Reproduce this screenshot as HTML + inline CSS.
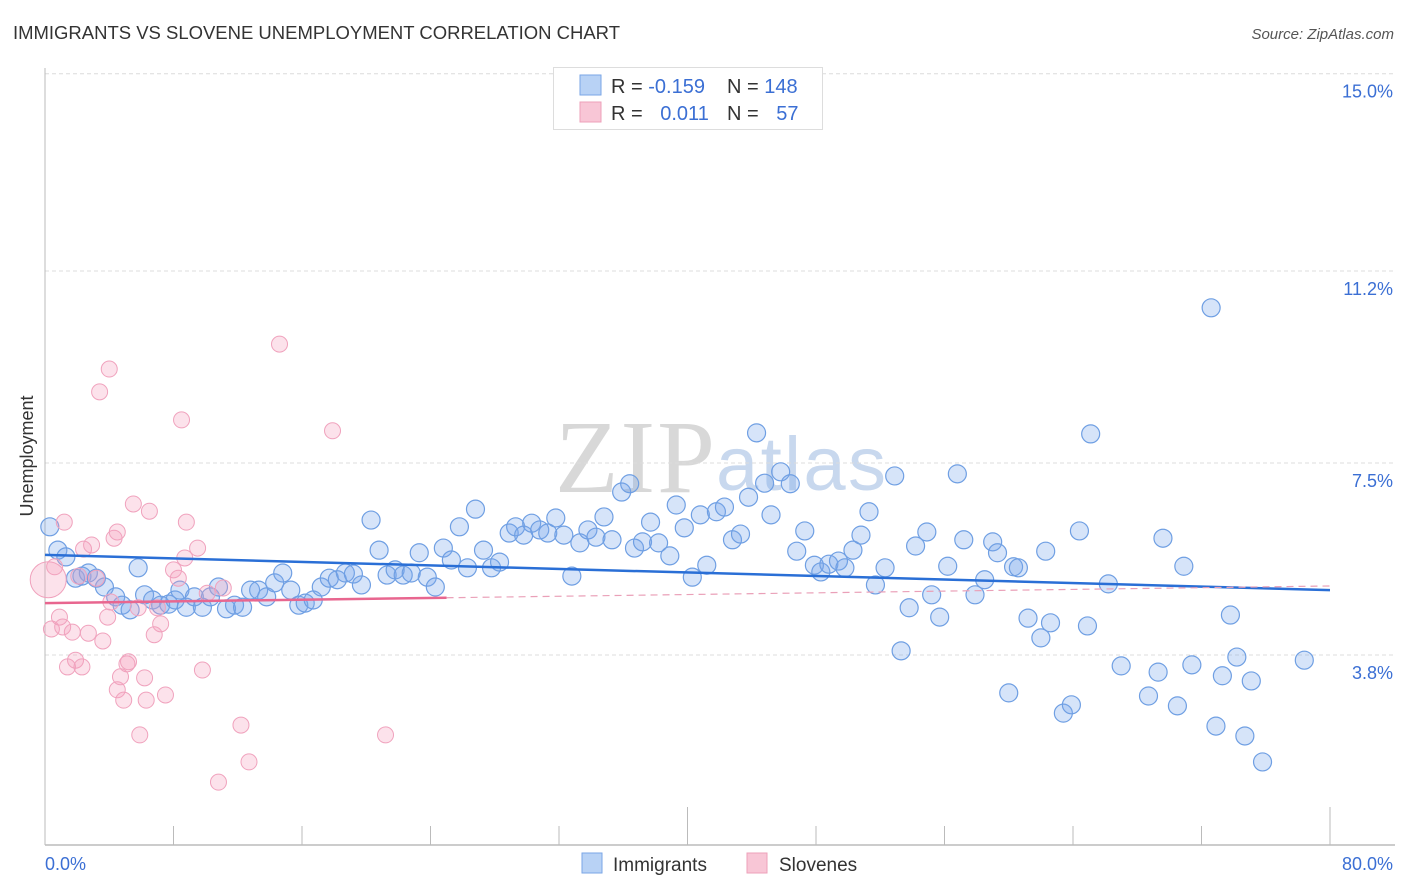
<!DOCTYPE html>
<html><head><meta charset="utf-8"><style>
body{margin:0;background:#fff;font-family:"Liberation Sans",sans-serif;}
svg{display:block}
</style></head><body>
<svg id="chart" width="1406" height="892" viewBox="0 0 1406 892">
<text x="13" y="39" font-size="18.5" fill="#333" textLength="607">IMMIGRANTS VS SLOVENE UNEMPLOYMENT CORRELATION CHART</text>
<text x="1394" y="39" font-size="15" fill="#555" text-anchor="end" font-style="italic">Source: ZipAtlas.com</text>
<text x="0" y="0" transform="translate(33,456) rotate(-90)" font-size="18" fill="#333" text-anchor="middle">Unemployment</text>
<g>
<text x="555" y="492" font-size="104" fill="#d8d8d8" font-family="Liberation Serif,serif" textLength="160">ZIP</text>
<text x="716" y="490" font-size="76" fill="#c8d8ee" textLength="170">atlas</text>
</g>
<g id="grid"></g>
<g id="axes"></g>
<g id="pts"></g>
<g id="trends"></g>
<g>
<rect x="553.5" y="67.5" width="269" height="62" fill="#fff" stroke="#ddd"/>
<rect x="580" y="75" width="21" height="20" fill="#b8d2f5" stroke="#7aa6e6"/>
<rect x="580" y="102" width="21" height="20" fill="#f8c6d6" stroke="#eea0ba"/>
<text x="611" y="93" font-size="20" fill="#333">R = <tspan fill="#3b6fd4">-0.159</tspan></text>
<text x="727" y="93" font-size="20" fill="#333">N = <tspan fill="#3b6fd4">148</tspan></text>
<text x="611" y="120" font-size="20" fill="#333">R = <tspan fill="#3b6fd4" dx="12">0.011</tspan></text>
<text x="727" y="120" font-size="20" fill="#333">N = <tspan fill="#3b6fd4" dx="12">57</tspan></text>
</g>
<g>
<rect x="582" y="853" width="20" height="20" fill="#b8d2f5" stroke="#7aa6e6"/>
<text x="613" y="871" font-size="19" fill="#333">Immigrants</text>
<text x="779" y="871" font-size="19" fill="#333">Slovenes</text>
<rect x="747" y="853" width="20" height="20" fill="#f8c6d6" stroke="#eea0ba"/>
</g>
</svg>
<script>
const yTicks=[3.8,7.5,11.2,15.0];
const yTickLabels=["3.8%","7.5%","11.2%","15.0%"];
const xTickLabels=["0.0%","80.0%"];
const blueX=[0.3,0.8,1.3,1.9,2.3,2.7,3.2,3.7,4.4,4.8,5.3,5.8,6.2,6.7,7.2,7.7,8.1,8.4,8.8,9.3,9.8,10.3,10.8,11.3,11.8,12.3,12.8,13.3,13.8,14.3,14.8,15.3,15.8,16.2,16.7,17.2,17.7,18.2,18.7,19.2,19.7,20.3,20.8,21.3,21.8,22.3,22.8,23.3,23.8,24.3,24.8,25.3,25.8,26.3,26.8,27.3,27.8,28.3,28.9,29.3,29.8,30.3,30.8,31.3,31.8,32.3,32.8,33.3,33.8,34.3,34.8,35.3,35.9,36.4,36.7,37.2,37.7,38.2,38.9,39.3,39.8,40.3,40.8,41.2,41.8,42.3,42.8,43.3,43.8,44.3,44.8,45.2,45.8,46.4,46.8,47.3,47.9,48.3,48.8,49.4,49.8,50.3,50.8,51.3,51.7,52.3,52.9,53.3,53.8,54.2,54.9,55.2,55.7,56.2,56.8,57.2,57.9,58.5,59.0,59.3,60.0,60.3,60.6,61.2,62.0,62.3,62.6,63.4,63.9,64.4,64.9,65.1,66.2,67.0,68.7,69.3,69.6,70.5,70.9,71.4,72.6,72.9,73.3,73.8,74.2,74.7,75.1,75.8,78.4];
const blueY=[6.27,5.82,5.69,5.28,5.32,5.38,5.28,5.11,4.92,4.76,4.67,5.48,4.96,4.86,4.76,4.78,4.86,5.05,4.72,4.92,4.72,4.92,5.11,4.69,4.76,4.72,5.05,5.05,4.92,5.19,5.38,5.05,4.76,4.80,4.86,5.11,5.28,5.25,5.38,5.36,5.15,6.40,5.82,5.34,5.44,5.34,5.38,5.77,5.30,5.11,5.86,5.63,6.27,5.48,6.61,5.82,5.48,5.59,6.15,6.27,6.11,6.34,6.21,6.15,6.44,6.11,5.32,5.96,6.21,6.07,6.46,6.02,6.94,7.10,5.86,5.98,6.36,5.96,5.71,6.69,6.25,5.30,6.50,5.53,6.56,6.65,6.02,6.13,6.84,8.08,7.11,6.50,7.33,7.10,5.80,6.19,5.53,5.40,5.55,5.61,5.48,5.82,6.11,6.56,5.15,5.48,7.25,3.88,4.71,5.90,6.17,4.96,4.53,5.51,7.29,6.02,4.96,5.25,5.98,5.77,3.07,5.50,5.48,4.51,4.13,5.80,4.42,2.68,2.84,6.19,4.36,8.06,5.17,3.59,3.01,3.47,6.05,2.82,5.51,3.61,10.49,2.43,3.40,4.57,3.76,2.24,3.30,1.74,3.70];
const pinkX=[0.4,0.6,0.9,1.1,1.2,1.4,1.7,1.9,2.1,2.3,2.4,2.7,2.9,3.2,3.4,3.6,3.9,4.0,4.1,4.3,4.5,4.5,4.7,4.9,5.1,5.2,5.5,5.8,5.9,6.2,6.3,6.5,6.8,7.0,7.2,7.5,8.0,8.3,8.5,8.7,8.8,9.5,9.8,10.1,10.8,11.1,12.2,12.7,14.6,17.9,21.2];
const pinkY=[4.30,5.50,4.53,4.34,6.36,3.57,4.24,3.70,5.32,3.57,5.84,4.22,5.92,5.28,8.87,4.07,4.53,9.31,4.82,6.05,3.13,6.17,3.38,2.93,3.63,3.67,6.71,4.71,2.26,3.36,2.93,6.57,4.19,4.71,4.40,3.03,5.44,5.28,8.33,5.67,6.36,5.86,3.51,4.99,1.35,5.09,2.45,1.74,9.79,8.12,2.26];
const bigPinkX=[0.2], bigPinkY=[5.25];
const blueTrend=[5.73,5.05];
const pinkTrend=[4.80,5.13];
const pinkSolidEnd=25;

const NS="http://www.w3.org/2000/svg";
const X0=45,X1=1330,XMAX=80;
const sx=v=>X0+(X1-X0)*v/XMAX;
const sy=v=>655-(v-3.8)*51.9;
function mk(tag,attrs,parent){const e=document.createElementNS(NS,tag);for(const k in attrs)e.setAttribute(k,attrs[k]);parent.appendChild(e);return e;}
const grid=document.getElementById('grid'),axes=document.getElementById('axes'),pts=document.getElementById('pts'),tr=document.getElementById('trends');
yTicks.forEach((t,i)=>{
 const l=mk('line',{x1:X0,x2:1395,y1:sy(t),y2:sy(t),stroke:'#dcdcdc','stroke-dasharray':'4,3'},grid);
 
 
 const tx=mk('text',{x:1393,y:sy(t)+24,'font-size':18,fill:'#3b6fd4','text-anchor':'end'},grid);
 tx.textContent=yTickLabels[i];
 
 
});
let a=mk('line',{x1:X0,x2:X0,y1:68,y2:845,stroke:'#bbb'},axes);


a=mk('line',{x1:X0,x2:1395,y1:845,y2:845,stroke:'#bbb','stroke-width':1.5},axes);


for(let i=0;i<=10;i++){
 const v=i*8;const tall=(i==5||i==10);
 const t=mk('line',{x1:sx(v),x2:sx(v),y1:tall?807:826,y2:845,stroke:'#bbb'},axes);
 
 
}
[[0,'start'],[XMAX,'end']].forEach((p,i)=>{
 const tx=mk('text',{x:i?1393:45,y:870,'font-size':18,fill:'#3b6fd4','text-anchor':p[1]},axes);
 tx.textContent=xTickLabels[i];
 
 
});
blueX.forEach((v,i)=>{
 const c=mk('circle',{cx:sx(v),cy:sy(blueY[i]),r:9,fill:'rgba(120,165,235,0.3)',stroke:'#6f9fe3','stroke-width':1.2},pts);
 
 
});
pinkX.forEach((v,i)=>{
 const c=mk('circle',{cx:sx(v),cy:sy(pinkY[i]),r:8,fill:'rgba(245,160,190,0.3)',stroke:'#f0a2bd','stroke-width':1},pts);
 
 
});
bigPinkX.forEach((v,i)=>{
 const c=mk('circle',{cx:sx(v),cy:sy(bigPinkY[i]),r:18,fill:'rgba(245,160,190,0.3)',stroke:'#f0a2bd','stroke-width':1},pts);
 
 
});
const pAt=x=>pinkTrend[0]+(pinkTrend[1]-pinkTrend[0])*x/XMAX;
let l=mk('line',{x1:sx(0),y1:sy(blueTrend[0]),x2:sx(XMAX),y2:sy(blueTrend[1]),stroke:'#2a6fd6','stroke-width':2.5},tr);


l=mk('line',{x1:sx(0),y1:sy(pAt(0)),x2:sx(pinkSolidEnd),y2:sy(pAt(pinkSolidEnd)),stroke:'#e8668f','stroke-width':2.5},tr);


l=mk('line',{x1:sx(pinkSolidEnd),y1:sy(pAt(pinkSolidEnd)),x2:sx(XMAX),y2:sy(pAt(XMAX)),stroke:'#eaa0b8','stroke-width':1.2,'stroke-dasharray':'7,5'},tr);


</script>
</body></html>
